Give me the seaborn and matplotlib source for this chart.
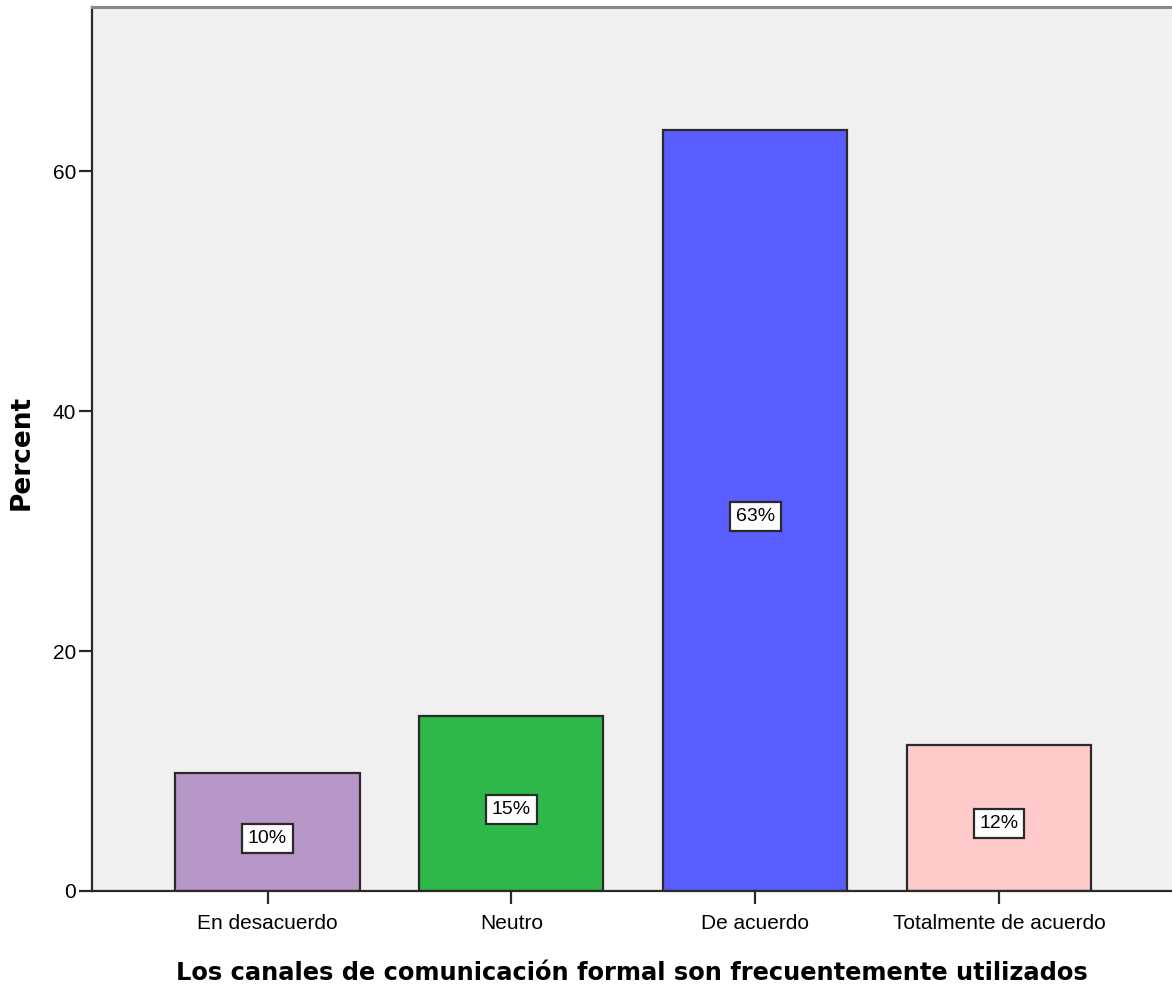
import numpy as np
import pandas as pd
import seaborn as sns
import matplotlib.pyplot as plt

# Datos
categorias = ["En desacuerdo", "Neutro", "De acuerdo", "Totalmente de acuerdo"]
porcentajes = [9.8, 14.6, 63.4, 12.2]
etiquetas = ["10%", "15%", "63%", "12%"]
colores = ["#B797C7", "#2EB84A", "#5A5DFF", "#FFCACA"]

df = pd.DataFrame({"categoria": categorias, "pct": porcentajes})

sns.set_style("white")
plt.rcParams["font.family"] = ["Liberation Sans", "DejaVu Sans"]
plt.rcParams["text.color"] = "black"
plt.rcParams["axes.labelcolor"] = "black"

fig = plt.figure(figsize=(11.72, 9.91), dpi=100)
ax = fig.add_axes([92 / 1172, 100 / 991, 1 - 92 / 1172, 884 / 991])
ax.set_facecolor("#F0F0F0")

sns.barplot(data=df, x="categoria", y="pct", hue="categoria", palette=colores,
            order=categorias, hue_order=categorias, legend=False,
            width=0.755, edgecolor="#2a2a2a", linewidth=1.6, saturation=1, ax=ax)

# Etiquetas de porcentaje en el centro de cada barra
for i, (v, t) in enumerate(zip(porcentajes, etiquetas)):
    ax.text(i, v / 2 - 0.5, t, ha="center", va="center", fontsize=14, color="black",
            bbox=dict(boxstyle="square,pad=0.3", fc="white", ec="#2a2a2a", lw=1.6))

ax.set_xlim(-0.72, 3.71)
ax.set_ylim(0, 73.67)
ax.set_yticks([0, 20, 40, 60])
ax.tick_params(axis="both", direction="out", length=9.5, width=1.6, color="#2a2a2a",
               labelcolor="black", labelsize=15, left=True, bottom=True)
ax.tick_params(axis="y", pad=2)
ax.tick_params(axis="x", pad=7)

ax.set_xlabel("Los canales de comunicación formal son frecuentemente utilizados",
              fontsize=17.4, fontweight="bold", family="DejaVu Sans")
ax.xaxis.set_label_coords(0.5, -0.079)
ax.set_ylabel("Percent", fontsize=19, fontweight="bold", family="DejaVu Sans", va="center")
ax.yaxis.set_label_coords(-0.0648, 0.4966)

for s in ["left", "bottom"]:
    ax.spines[s].set_color("#2a2a2a")
    ax.spines[s].set_linewidth(1.6)
ax.spines["top"].set_color("#888888")
ax.spines["top"].set_linewidth(2.2)
ax.spines["right"].set_visible(False)

fig.savefig("out.png", dpi=100)
